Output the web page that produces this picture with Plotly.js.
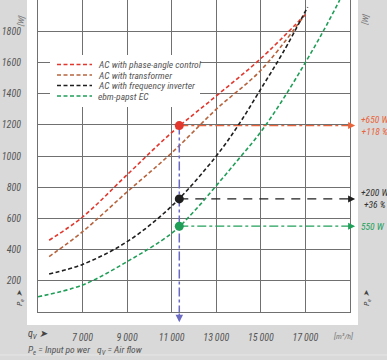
<!DOCTYPE html>
<html><head><meta charset="utf-8">
<script src="https://cdn.plot.ly/plotly-3.0.1.min.js"></script>
<style>html,body{margin:0;padding:0;background:#d9d9d9}#chart{width:387px;height:360px}</style>
</head><body><div id="chart"></div>
<script>
// ---- data ----
const seriesNames = ["AC with phase-angle control", "AC with transformer", "AC with frequency inverter", "ebm-papst EC"];
const seriesColors = ["#e2372d", "#b6643e", "#1e1e1e", "#1f9e58"];
const phaseFlow = [5500, 7000, 9000, 11000, 13000, 15000, 17050];
const phasePower = [460, 609, 880, 1150, 1385, 1625, 1915];
const trafoFlow = [5500, 7000, 9000, 11000, 13000, 15000, 16950];
const trafoPower = [355, 515, 770, 1020, 1300, 1550, 1900];
const inverterFlow = [5500, 7000, 9000, 11000, 13000, 14000, 15000, 16000, 17100];
const inverterPower = [244, 305, 451, 679, 1000, 1200, 1430, 1665, 1955];
const ecFlow = [5000, 7000, 9000, 11000, 12000, 13000, 14000, 15000, 16000, 17000, 17800, 18540];
const ecPower = [98, 173, 323, 505, 645, 810, 980, 1155, 1365, 1600, 1800, 2000];
const opFlow = 11340;
const opPower = [1195, 725, 550];          // phase-angle, inverter, EC at operating point
const opColors = ["#e2372d", "#1e1e1e", "#1f9e58"];
const guideColors = ["#e8643c", "#1e1e1e", "#22a05a"];
const labelColors = ["#e8643c", "#333333", "#22a05a"];
const opLabels = ["+650 W<br>+118 %", "+200 W<br>+36 %", "550 W"];
const xTickVals = [7000, 9000, 11000, 13000, 15000, 17000];
const xTickText = ["7\u2009000", "9\u2009000", "11\u2009000", "13\u2009000", "15\u2009000", "17\u2009000"];
const yTickVals = [200, 400, 600, 800, 1000, 1200, 1400, 1600, 1800];
const yTickText = ["200", "400", "600", "800", "1000", "1200", "1400", "1600", "1800"];

// ---- drawing ----
const FONT = "Roboto Condensed, Liberation Sans, Arial, sans-serif";
const GRID = "#707070";
const XMIN = 5000, XMAX = 19000, YMIN = 0, YMAX = 2000;
const curveDash = "4px,2.5px";

const curves = [[phaseFlow, phasePower], [trafoFlow, trafoPower], [inverterFlow, inverterPower], [ecFlow, ecPower]];
const traces = curves.map((c, i) => ({
  x: c[0], y: c[1], type: "scatter", mode: "lines", name: seriesNames[i],
  line: {color: seriesColors[i], width: 1.6, dash: curveDash, shape: "spline", smoothing: 1},
  hoverinfo: "skip", showlegend: false
}));

// guide lines from the operating point
const guideDash = ["dashdot", "9px,7px", "dashdot"];
opPower.forEach((p, i) => {
  traces.push({x: [opFlow, XMAX], y: [p, p], type: "scatter", mode: "lines",
    line: {color: guideColors[i], width: 1.3, dash: guideDash[i]}, showlegend: false, hoverinfo: "skip"});
});
traces.push({x: [opFlow, opFlow], y: [opPower[0], YMIN], type: "scatter", mode: "lines",
  line: {color: "#6b6bc4", width: 1.5, dash: "dashdot"}, showlegend: false, hoverinfo: "skip"});
traces.push({x: opPower.map(() => opFlow), y: opPower, type: "scatter", mode: "markers",
  marker: {color: opColors, size: 9}, showlegend: false, hoverinfo: "skip", cliponaxis: false});

// pixel helpers for the decorative overlay
const L = 38, T = 0, W = 312, H = 312;
const px = v => (v - L) / W;
const py = v => (T + H - v) / H;

const shapes = [
  {type: "rect", xref: "paper", yref: "paper", x0: px(27), x1: px(358), y0: py(325), y1: py(-5),
   fillcolor: "#ffffff", line: {width: 0}, layer: "below"},
  {type: "line", xref: "paper", yref: "paper", x0: px(-5), x1: px(400), y0: py(355), y1: py(355),
   line: {color: "#e6e6e6", width: 1}, layer: "below"},
  {type: "rect", xref: "paper", yref: "paper", x0: px(50), x1: px(200), y0: py(107), y1: py(55),
   fillcolor: "#ffffff", line: {width: 0}, layer: "above"}
];
const legendRows = [64.5, 75, 85.5, 96];
seriesNames.forEach((n, i) => {
  shapes.push({type: "line", xref: "paper", yref: "paper", x0: px(57), x1: px(92), y0: py(legendRows[i]), y1: py(legendRows[i]),
    line: {color: seriesColors[i], width: 1.6, dash: curveDash}, layer: "above"});
});

const txt = (size, color) => ({family: FONT, size: size, color: color || "#555", style: "italic"});
const annotations = [];
seriesNames.forEach((n, i) => {
  annotations.push({xref: "paper", yref: "paper", x: px(96), y: py(legendRows[i]), xanchor: "left", yanchor: "middle",
    text: n, showarrow: false, font: txt(9.5, "#555")});
});
// right-side value labels and arrowheads past the grid box
opPower.forEach((p, i) => {
  annotations.push({xref: "paper", yref: "y", x: px(359), y: p, xanchor: "left", yanchor: "middle",
    text: opLabels[i], showarrow: false, font: txt(9.5, labelColors[i])});
  annotations.push({xref: "x", yref: "y", axref: "x", ayref: "y", x: XMAX + 230, y: p, ax: XMAX - 150, ay: p,
    text: "", showarrow: true, arrowhead: 2, arrowsize: 1, arrowwidth: 1.4, arrowcolor: guideColors[i], standoff: 0, startstandoff: 0});
});
annotations.push({xref: "x", yref: "y", axref: "x", ayref: "y", x: opFlow, y: YMIN - 66, ax: opFlow, ay: YMIN,
  text: "", showarrow: true, arrowhead: 2, arrowsize: 1, arrowwidth: 1.5, arrowcolor: "#6b6bc4", standoff: 0});
// axis decorations
annotations.push(
  {xref: "paper", yref: "paper", x: px(13), y: py(12), text: "[W]", textangle: -80, showarrow: false, font: txt(8, "#777")},
  {xref: "paper", yref: "paper", x: px(373), y: py(10), text: "[W]", textangle: -80, showarrow: false, font: txt(8, "#777")},
  {xref: "paper", yref: "paper", x: px(13), y: py(308), text: "P<sub>e</sub> ➤", textangle: -90, showarrow: false, font: txt(8, "#444")},
  {xref: "paper", yref: "paper", x: px(374), y: py(308), text: "P<sub>e</sub> ➤", textangle: -90, showarrow: false, font: txt(8, "#444")},
  {xref: "paper", yref: "paper", x: px(26), y: py(334), xanchor: "left", yanchor: "middle", text: "q<sub>V</sub> ➤", showarrow: false, font: txt(10, "#444")},
  {xref: "paper", yref: "paper", x: px(331), y: py(336), xanchor: "left", yanchor: "middle", text: "[m³/h]", showarrow: false, font: txt(8, "#777")},
  {xref: "paper", yref: "paper", x: px(26), y: py(350), xanchor: "left", yanchor: "middle", text: "P<sub>e</sub> = Input po wer", showarrow: false, font: txt(9.5, "#555")},
  {xref: "paper", yref: "paper", x: px(95), y: py(350), xanchor: "left", yanchor: "middle", text: "q<sub>V</sub> = Air flow", showarrow: false, font: txt(9.5, "#555")}
);

const axisCommon = {
  showgrid: true, gridcolor: GRID, gridwidth: 1, zeroline: false,
  showline: true, mirror: true, linecolor: GRID, linewidth: 1,
  ticks: "", tickmode: "array", fixedrange: true,
  tickfont: txt(10, "#555")
};

const layout = {
  width: 387, height: 360,
  margin: {l: L, r: 387 - L - W, t: T, b: 360 - T - H, pad: 0},
  paper_bgcolor: "#d9d9d9", plot_bgcolor: "#ffffff",
  showlegend: false,
  xaxis: Object.assign({}, axisCommon, {range: [XMIN, XMAX], tickvals: xTickVals, ticktext: xTickText, ticklabelstandoff: 16}),
  yaxis: Object.assign({}, axisCommon, {range: [YMIN, YMAX], tickvals: yTickVals, ticktext: yTickText, ticklabelstandoff: 14}),
  shapes: shapes, annotations: annotations
};

Plotly.newPlot("chart", traces, layout, {displayModeBar: false, staticPlot: true});
</script></body></html>
